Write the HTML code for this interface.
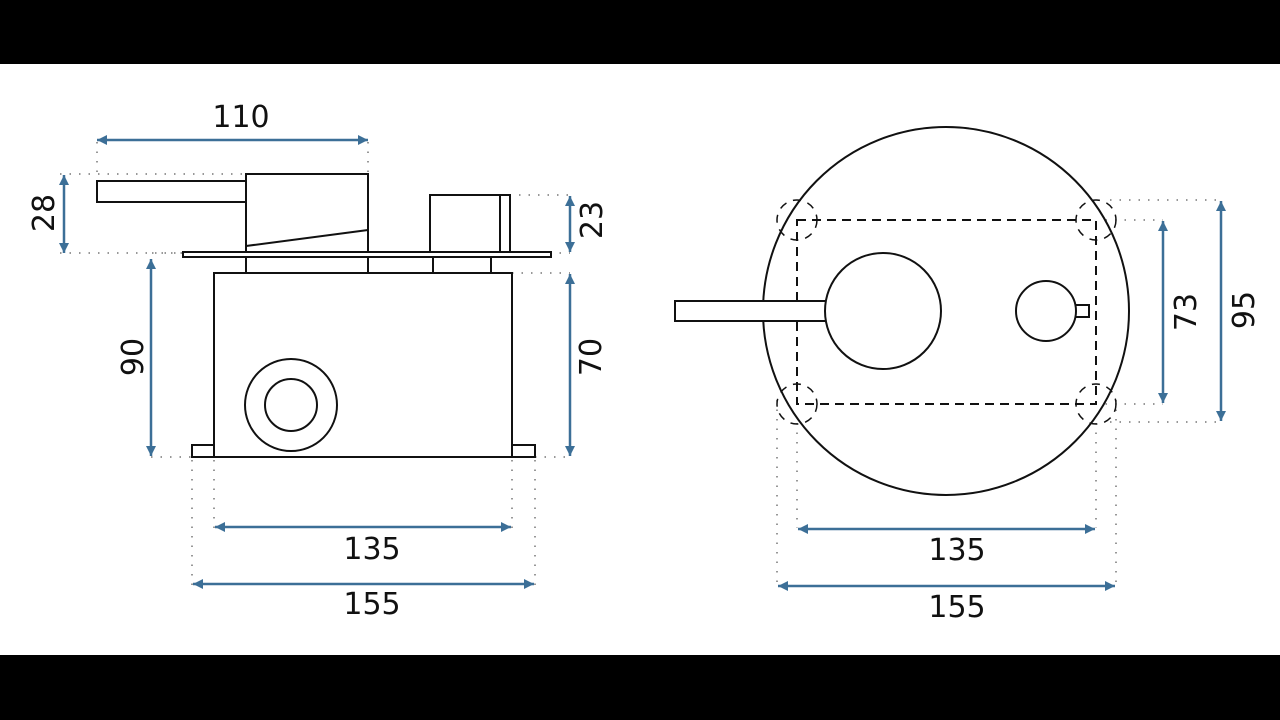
<!DOCTYPE html>
<html><head><style>
html,body{margin:0;padding:0;background:#fff;}
svg{display:block}
text{font-family:"DejaVu Sans","Liberation Sans",sans-serif;font-size:30px;fill:#111}
</style></head><body>
<svg width="1280" height="720" viewBox="0 0 1280 720" xmlns="http://www.w3.org/2000/svg">
<defs>
<marker id="a" viewBox="0 0 10 10" refX="10" refY="5" markerWidth="18" markerHeight="10" markerUnits="userSpaceOnUse" orient="auto-start-reverse">
<path d="M0,0 L10,5 L0,10 z" fill="#3c6f97"/></marker>
</defs>
<rect x="0" y="0" width="1280" height="64" fill="#000"/>
<rect x="0" y="655" width="1280" height="65" fill="#000"/>

<g stroke="#777" stroke-width="1.5" stroke-dasharray="1.5 8" fill="none">
<path d="M97 142V181 M368 142V174 M60 174H246 M60 253H183 M152 253H183 M500 195H570 M550 253H570 M512 273H570 M151 457H192 M535 457H570 M192 460V586 M214 460V528 M512 460V528 M535 460V586"/>
<path d="M1110 200H1221 M1096 220H1163 M1096 404H1163 M1110 422H1221 M777 400V586 M797 404V528 M1096 404V528 M1116 400V586"/>
</g>

<g stroke="#111" stroke-width="2" fill="#fff">
<rect x="97" y="181" width="149" height="21"/>
<rect x="246" y="174" width="122" height="78"/>
<line x1="246" y1="246" x2="368" y2="230"/>
<rect x="430" y="195" width="70" height="57"/>
<rect x="500" y="195" width="10" height="57"/>
<rect x="183" y="252" width="368" height="5"/>
<rect x="246" y="257" width="122" height="16"/>
<rect x="433" y="257" width="58" height="16"/>
<rect x="214" y="273" width="298" height="184"/>
<rect x="192" y="445" width="22" height="12"/>
<rect x="512" y="445" width="23" height="12"/>
<circle cx="291" cy="405" r="46"/>
<circle cx="291" cy="405" r="26"/>
<ellipse cx="946" cy="311" rx="183" ry="184"/>
<rect x="797" y="220" width="299" height="184" stroke-dasharray="9 6" fill="none"/>
<g stroke-dasharray="8 7" stroke-width="1.5" fill="none">
<circle cx="797" cy="220" r="20"/><circle cx="1096" cy="220" r="20"/>
<circle cx="797" cy="404" r="20"/><circle cx="1096" cy="404" r="20"/>
</g>
<rect x="675" y="301" width="151" height="20"/>
<circle cx="883" cy="311" r="58"/>
<rect x="1075" y="305" width="14" height="12"/>
<circle cx="1046" cy="311" r="30"/>
</g>

<g stroke="#3c6f97" stroke-width="2.5" fill="none" marker-start="url(#a)" marker-end="url(#a)">
<line x1="97" y1="140" x2="368" y2="140"/>
<line x1="64" y1="175" x2="64" y2="253"/>
<line x1="151" y1="259" x2="151" y2="456"/>
<line x1="570" y1="196" x2="570" y2="252"/>
<line x1="570" y1="274" x2="570" y2="456"/>
<line x1="215" y1="527" x2="511" y2="527"/>
<line x1="193" y1="584" x2="534" y2="584"/>
<line x1="1163" y1="221" x2="1163" y2="403"/>
<line x1="1221" y1="201" x2="1221" y2="421"/>
<line x1="798" y1="529" x2="1095" y2="529"/>
<line x1="778" y1="586" x2="1115" y2="586"/>
</g>

<text x="241" y="127" text-anchor="middle">110</text>
<text x="372" y="559" text-anchor="middle">135</text>
<text x="372" y="614" text-anchor="middle">155</text>
<text x="957" y="560" text-anchor="middle">135</text>
<text x="957" y="617" text-anchor="middle">155</text>
<text transform="translate(54,213) rotate(-90)" text-anchor="middle">28</text>
<text transform="translate(143,357) rotate(-90)" text-anchor="middle">90</text>
<text transform="translate(602,220) rotate(-90)" text-anchor="middle">23</text>
<text transform="translate(601,357) rotate(-90)" text-anchor="middle">70</text>
<text transform="translate(1196,312) rotate(-90)" text-anchor="middle">73</text>
<text transform="translate(1254,310) rotate(-90)" text-anchor="middle">95</text>
</svg>
</body></html>
